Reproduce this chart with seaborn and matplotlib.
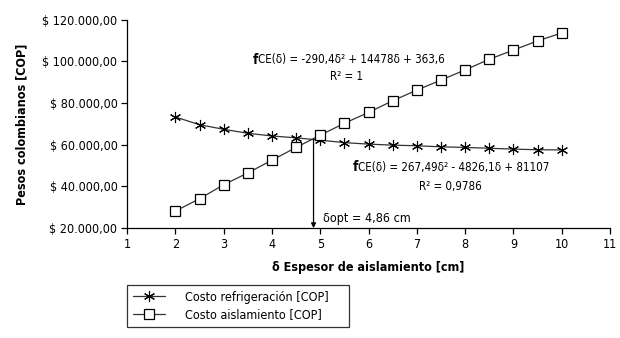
import pandas as pd
import numpy as np
import matplotlib
matplotlib.use('Agg')
import matplotlib.pyplot as plt
import seaborn as sns
from matplotlib.ticker import FuncFormatter

espesor = [2, 2.5, 3, 3.5, 4, 4.5, 5, 5.5, 6, 6.5, 7, 7.5, 8, 8.5, 9, 9.5, 10]
costo_refrigeracion = [73300, 69600, 67400, 65500, 64200, 63300, 62200, 61000, 60300,
                       59800, 59500, 59000, 58700, 58300, 57900, 57600, 57500]
costo_aislamiento = [28200, 34100, 40800, 46500, 52600, 58700, 64600, 70300, 75500,
                     81100, 86200, 91000, 95900, 101000, 105400, 109800, 113600]
serie_nombres = ['Costo refrigeración [COP]', 'Costo aislamiento [COP]']
delta_opt = 4.86
y_ticks = [20000, 40000, 60000, 80000, 100000, 120000]
x_ticks = list(range(1, 12))

sns.set_style('ticks')
plt.rcParams['font.family'] = ['DejaVu Sans']
plt.rcParams['font.stretch'] = 'condensed'
plt.rcParams['text.color'] = 'black'
plt.rcParams['axes.labelcolor'] = 'black'

fig = plt.figure(figsize=(6.2, 3.38), dpi=100)
ax = fig.add_axes([0.205, 0.325, 0.779, 0.617])

# costo refrigeracion (asteriscos)
sns.lineplot(x=espesor, y=costo_refrigeracion, color='#333333', linewidth=0.9,
             marker=(6, 2, 0), markersize=8, markeredgecolor='black',
             markeredgewidth=0.8, label=serie_nombres[0], ax=ax)
# costo aislamiento (cuadrados)
sns.lineplot(x=espesor, y=costo_aislamiento, color='#333333', linewidth=0.9,
             marker='s', markersize=7, markerfacecolor='white', markeredgecolor='black',
             markeredgewidth=0.9, label=serie_nombres[1], ax=ax)

# flecha al espesor optimo
cruce = np.interp(delta_opt, espesor, costo_refrigeracion)
ax.annotate('', xy=(delta_opt, 20000), xytext=(delta_opt, cruce),
            arrowprops=dict(arrowstyle='-|>', color='black', lw=0.9,
                            mutation_scale=7, shrinkA=0, shrinkB=0))
fs = 9
fe = 8.3
ax.text(5.05, 24800, 'δopt = 4,86 cm', fontsize=fs, va='center', ha='left')

# ecuaciones: la "f" en negrita, el resto normal
ax.text(3.71, 100700, 'f', fontsize=fe + 1.5, fontweight='bold', ha='right', va='center')
ax.text(3.71, 100700, 'CE(δ) = -290,4δ² + 14478δ + 363,6', fontsize=fe, ha='left', va='center')
ax.text(5.55, 92500, 'R² = 1', fontsize=fe, ha='center', va='center')
ax.text(5.78, 49200, 'f', fontsize=fe + 1.5, fontweight='bold', ha='right', va='center')
ax.text(5.78, 49200, 'CE(δ) = 267,49δ² - 4826,1δ + 81107', fontsize=fe, ha='left', va='center')
ax.text(7.69, 40100, 'R² = 0,9786', fontsize=fe, ha='center', va='center')

ax.set_xlim(1, 11)
ax.set_ylim(20000, 120000)
ax.set_xticks(x_ticks)
ax.set_yticks(y_ticks)
ax.yaxis.set_major_formatter(FuncFormatter(
    lambda v, p: '$ ' + f'{v:,.2f}'.replace(',', 'X').replace('.', ',').replace('X', '.')))
ax.tick_params(labelsize=fs, length=4, width=0.9, colors='black', pad=3)
for s in ['left', 'bottom']:
    ax.spines[s].set_linewidth(0.9)
    ax.spines[s].set_color('black')
sns.despine(ax=ax)

ax.set_xlabel('δ Espesor de aislamiento [cm]', fontsize=9, fontweight='bold', labelpad=7)
ax.set_ylabel('Pesos colombianos [COP]', fontsize=9, fontweight='bold', labelpad=10)

handles, labels = ax.get_legend_handles_labels()
ax.legend(handles, [l + '    ' for l in labels], loc='upper left',
          bbox_to_anchor=(0.0, -0.273), borderaxespad=0,
          frameon=True, fancybox=False, edgecolor='black', fontsize=fs,
          handlelength=2.6, borderpad=0.45, labelspacing=0.35, handletextpad=1.6)
ax.get_legend().get_frame().set_linewidth(0.9)

fig.savefig('out.png', dpi=100)
